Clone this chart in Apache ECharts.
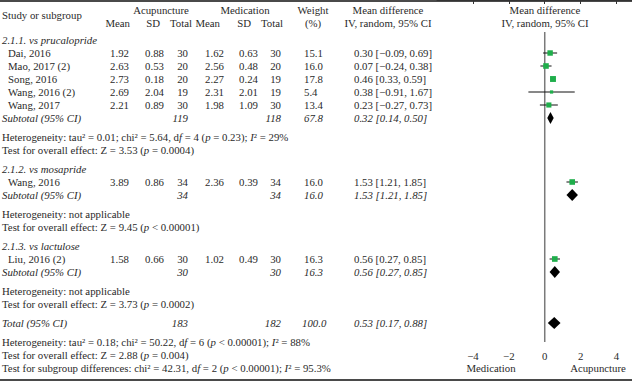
<!DOCTYPE html>
<html>
<head>
<meta charset="utf-8">
<script src="https://cdn.jsdelivr.net/npm/echarts@6/dist/echarts.min.js"></script>
<style>
  html, body { margin: 0; padding: 0; background: #fff; }
  #chart { width: 632px; height: 382px; }
</style>
</head>
<body>
<div id="chart"></div>
<script>
// study level data
const studies = ['Dai, 2016', 'Mao, 2017 (2)', 'Song, 2016', 'Wang, 2016 (2)', 'Wang, 2017', 'Wang, 2016', 'Liu, 2016 (2)'];
const studyGroup = [0, 0, 0, 0, 0, 1, 2];
const acuMean = ['1.92', '2.63', '2.73', '2.69', '2.21', '3.89', '1.58'];
const acuSD = ['0.88', '0.53', '0.18', '2.04', '0.89', '0.86', '0.66'];
const acuN = [30, 20, 20, 19, 30, 34, 30];
const medMean = ['1.62', '2.56', '2.27', '2.31', '1.98', '2.36', '1.02'];
const medSD = ['0.63', '0.48', '0.24', '2.01', '1.09', '0.39', '0.49'];
const medN = [30, 20, 19, 19, 30, 34, 30];
const weights = [15.1, 16.0, 17.8, 5.4, 13.4, 16.0, 16.3];
const md = [0.30, 0.07, 0.46, 0.38, 0.23, 1.53, 0.56];
const ciLow = [-0.09, -0.24, 0.33, -0.91, -0.27, 1.21, 0.27];
const ciHigh = [0.69, 0.38, 0.59, 1.67, 0.73, 1.85, 0.85];

// subgroups
const groupNames = ['2.1.1. vs prucalopride', '2.1.2. vs mosapride', '2.1.3. vs lactulose'];
const subAcuN = [119, 34, 30];
const subMedN = [118, 34, 30];
const subWeight = [67.8, 16.0, 16.3];
const subMD = [0.32, 1.53, 0.56];
const subLow = [0.14, 1.21, 0.27];
const subHigh = [0.50, 1.85, 0.85];
const groupHet = [
  'Heterogeneity: tau² = 0.01; chi² = 5.64, d{i|f} = 4 ({i|p} = 0.23); {i|I}² = 29%',
  'Heterogeneity: not applicable',
  'Heterogeneity: not applicable'
];
const groupZ = [
  'Test for overall effect: Z = 3.53 ({i|p} = 0.0004)',
  'Test for overall effect: Z = 9.45 ({i|p} < 0.00001)',
  'Test for overall effect: Z = 3.73 ({i|p} = 0.0002)'
];

// overall
const totalAcuN = 183;
const totalMedN = 182;
const totalWeight = 100.0;
const totalMD = 0.53;
const totalLow = 0.17;
const totalHigh = 0.88;
const totalNotes = [
  'Heterogeneity: tau² = 0.18; chi² = 50.22, d{i|f} = 6 ({i|p} < 0.00001); {i|I}² = 88%',
  'Test for overall effect: Z = 2.88 ({i|p} = 0.004)',
  'Test for subgroup differences: chi² = 42.31, d{i|f} = 2 ({i|p} < 0.00001); {i|I}² = 95.3%'
];

// axis
const xTicks = [-4, -2, 0, 2, 4];
const xMin = -6;
const xMax = 4.86;

const FONT = '"Liberation Serif", "Times New Roman", serif';
const FS = 10.8;
const INK = '#2a2a2a';

const fmt = v => v.toFixed(2).replace('-', '−');
const ciText = (m, l, h) => `${fmt(m)} [${fmt(l)}, ${fmt(h)}]`;

// row layout
const ROW = 13, GAP = 6;
const rows = [];
let y = 40;
groupNames.forEach((g, gi) => {
  rows.push({ type: 'group', gi, y }); y += ROW;
  studyGroup.forEach((sg, si) => {
    if (sg === gi) { rows.push({ type: 'study', si, y }); y += ROW; }
  });
  rows.push({ type: 'sub', gi, y }); y += ROW + GAP;
  rows.push({ type: 'het', gi, y }); y += ROW;
  rows.push({ type: 'z', gi, y }); y += ROW + GAP;
});
rows.push({ type: 'total', y }); y += ROW + GAP;
totalNotes.forEach((t, k) => { rows.push({ type: 'note', k, y }); y += ROW; });

const graphics = [];
function txt(x, yy, text, align, italic) {
  graphics.push({
    type: 'text', x: x, y: yy, silent: true,
    style: {
      text: text, fill: INK, font: (italic ? 'italic ' : '') + FS + 'px ' + FONT,
      fontFamily: FONT, fontSize: FS, fontStyle: italic ? 'italic' : 'normal',
      textAlign: align || 'left', textVerticalAlign: 'middle', verticalAlign: 'middle',
      rich: { i: { fontStyle: 'italic', fontFamily: FONT, fontSize: FS, fill: INK } }
    }
  });
}

// column positions
const C = { name: 8, lab: 2, aM: 129, aS: 164, aN: 188, mM: 224, mS: 258, mN: 281, w: 304, ci: 354 };

// headers
txt(2, 15, 'Study or subgroup');
txt(161, 10, 'Acupuncture', 'center');
txt(245, 10, 'Medication', 'center');
txt(313, 10, 'Weight', 'center');
txt(388, 10, 'Mean difference', 'center');
txt(545, 10, 'Mean difference', 'center');
txt(130, 23, 'Mean', 'right');
txt(160, 23, 'SD', 'right');
txt(192, 23, 'Total', 'right');
txt(220, 23, 'Mean', 'right');
txt(251, 23, 'SD', 'right');
txt(283, 23, 'Total', 'right');
txt(313, 23, '(%)', 'center');
txt(388, 23, 'IV, random, 95% CI', 'center');
txt(545, 23, 'IV, random, 95% CI', 'center');

const studyData = [];
const diamondData = [];

rows.forEach(r => {
  if (r.type === 'group') {
    txt(C.lab, r.y, groupNames[r.gi], 'left', true);
  } else if (r.type === 'study') {
    const i = r.si;
    txt(C.name, r.y, studies[i]);
    txt(C.aM, r.y, acuMean[i], 'right');
    txt(C.aS, r.y, acuSD[i], 'right');
    txt(C.aN, r.y, String(acuN[i]), 'right');
    txt(C.mM, r.y, medMean[i], 'right');
    txt(C.mS, r.y, medSD[i], 'right');
    txt(C.mN, r.y, String(medN[i]), 'right');
    txt(C.w, r.y, weights[i].toFixed(1));
    txt(C.ci, r.y, ciText(md[i], ciLow[i], ciHigh[i]));
    studyData.push([md[i], ciLow[i], ciHigh[i], r.y, weights[i]]);
  } else if (r.type === 'sub') {
    const g = r.gi;
    txt(C.lab, r.y, 'Subtotal (95% CI)', 'left', true);
    txt(C.aN, r.y, String(subAcuN[g]), 'right', true);
    txt(C.mN, r.y, String(subMedN[g]), 'right', true);
    txt(C.w, r.y, subWeight[g].toFixed(1), 'left', true);
    txt(C.ci, r.y, ciText(subMD[g], subLow[g], subHigh[g]), 'left', true);
    diamondData.push([subMD[g], subLow[g], subHigh[g], r.y]);
  } else if (r.type === 'het') {
    txt(C.lab, r.y, groupHet[r.gi]);
  } else if (r.type === 'z') {
    txt(C.lab, r.y, groupZ[r.gi]);
  } else if (r.type === 'total') {
    txt(C.lab, r.y, 'Total (95% CI)', 'left', true);
    txt(C.aN, r.y, String(totalAcuN), 'right', true);
    txt(C.mN, r.y, String(totalMedN), 'right', true);
    txt(C.w - 2, r.y, totalWeight.toFixed(1), 'left', true);
    txt(C.ci, r.y, ciText(totalMD, totalLow, totalHigh), 'left', true);
    diamondData.push([totalMD, totalLow, totalHigh, r.y]);
  } else if (r.type === 'note') {
    txt(C.lab, r.y, totalNotes[r.k]);
  }
});

// rules
graphics.push({ type: 'line', silent: true, shape: { x1: 0, y1: 1, x2: 632, y2: 1 }, style: { stroke: '#4a4a4a', lineWidth: 2 } });
graphics.push({ type: 'line', silent: true, shape: { x1: 0, y1: 380, x2: 632, y2: 380 }, style: { stroke: '#4a4a4a', lineWidth: 2 } });
txt(491, 368, 'Medication', 'center');
txt(598, 368, 'Acupuncture', 'center');

const GRID_BOTTOM = 40;
const chart = echarts.init(document.getElementById('chart'), null, { renderer: 'svg' });
chart.setOption({
  animation: false,
  backgroundColor: '#fff',
  grid: { left: 437, right: 0, top: 0, bottom: GRID_BOTTOM, containLabel: false },
  xAxis: {
    type: 'value', min: xMin, max: xMax,
    splitLine: { show: false },
    axisLine: { show: true, lineStyle: { color: '#333', width: 1 } },
    axisTick: { show: true, length: 4, customValues: xTicks, lineStyle: { color: '#333' } },
    axisLabel: {
      customValues: xTicks, margin: 8, color: INK, fontFamily: FONT, fontSize: FS,
      formatter: v => String(v).replace('-', '−')
    }
  },
  yAxis: { type: 'value', inverse: true, min: 0, max: 382 - GRID_BOTTOM, show: false },
  series: [
    {
      type: 'line', data: [[0, 32], [0, 382 - GRID_BOTTOM]], symbol: 'none',
      lineStyle: { color: '#7a7a7a', width: 1.5 }, silent: true, z: 1
    },
    {
      type: 'custom', data: studyData, z: 3,
      renderItem: (params, api) => {
        const yy = api.value(3);
        const c = api.coord([api.value(0), yy]);
        const lo = api.coord([api.value(1), yy]);
        const hi = api.coord([api.value(2), yy]);
        const s = 1.4 * Math.sqrt(api.value(4));
        return {
          type: 'group', children: [
            { type: 'line', shape: { x1: lo[0], y1: lo[1], x2: hi[0], y2: hi[1] }, style: { stroke: '#111', lineWidth: 1 } },
            { type: 'rect', shape: { x: c[0] - s / 2, y: c[1] - s / 2, width: s, height: s }, style: { fill: '#1fae4b' } }
          ]
        };
      }
    },
    {
      type: 'custom', data: diamondData, z: 3,
      renderItem: (params, api) => {
        const yy = api.value(3);
        const c = api.coord([api.value(0), yy]);
        const lo = api.coord([api.value(1), yy]);
        const hi = api.coord([api.value(2), yy]);
        const h = 6;
        return {
          type: 'polygon',
          shape: { points: [[lo[0], c[1]], [c[0], c[1] - h], [hi[0], c[1]], [c[0], c[1] + h]] },
          style: { fill: '#000' }
        };
      }
    }
  ],
  graphic: graphics
});
</script>
</body>
</html>
